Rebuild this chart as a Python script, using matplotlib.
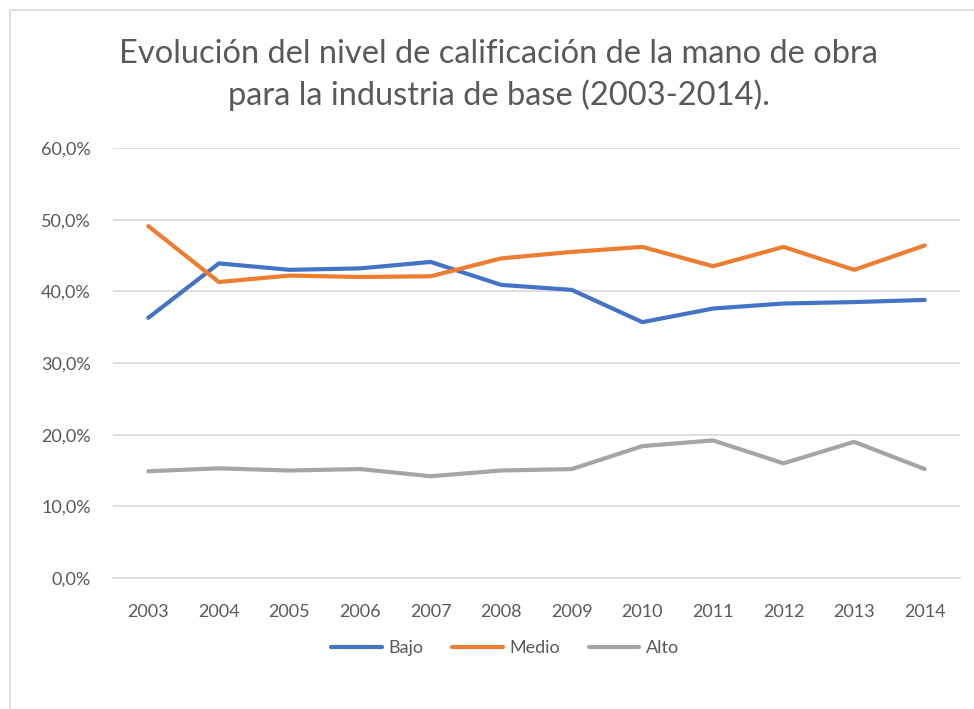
import numpy as np
import matplotlib
matplotlib.use('Agg')
from matplotlib import pyplot as plt
from matplotlib.patches import Rectangle

years = ['2003', '2004', '2005', '2006', '2007', '2008',
         '2009', '2010', '2011', '2012', '2013', '2014']
bajo  = [36.3, 43.9, 43.0, 43.2, 44.1, 40.9, 40.2, 35.7, 37.6, 38.3, 38.5, 38.8]
medio = [49.1, 41.3, 42.2, 42.0, 42.1, 44.6, 45.5, 46.2, 43.5, 46.2, 43.0, 46.4]
alto  = [14.9, 15.3, 15.0, 15.2, 14.2, 15.0, 15.2, 18.4, 19.2, 16.0, 19.0, 15.2]
yticks = [0, 10, 20, 30, 40, 50, 60]
title = ['Evolución del nivel de calificación de la mano de obra',
         'para la industria de base (2003-2014).']

plt.rcParams['font.family'] = ['Lato', 'DejaVu Sans']
txt = '#595959'

fig = plt.figure(figsize=(9.74, 7.09), dpi=100)
W, H = 974, 709
fig.patches.append(Rectangle((10 / W, -0.01), 1.02, 1 - 10 / H + 0.01,
                             transform=fig.transFigure, fill=False,
                             edgecolor='#D9D9D9', lw=1.2))

ax = fig.add_axes([113 / W, 1 - 578 / H, (960 - 113) / W, (578 - 148) / H])
x = np.arange(len(years))
ax.plot(x, bajo, color='#4472C4', lw=3, label='Bajo', solid_capstyle='round')
ax.plot(x, medio, color='#ED7D31', lw=3, label='Medio', solid_capstyle='round')
ax.plot(x, alto, color='#A5A5A5', lw=3, label='Alto', solid_capstyle='round')

ax.set_xlim(-0.5, len(years) - 0.5)
ax.set_ylim(0, 60)
ax.set_yticks(yticks)
ax.set_yticklabels(['%d,0%%' % v for v in yticks])
ax.set_xticks(x)
ax.set_xticklabels(years)
ax.grid(axis='y', color='#D9D9D9', lw=1.2)
ax.set_axisbelow(True)
for s in ['top', 'right', 'left']:
    ax.spines[s].set_visible(False)
ax.spines['bottom'].set_color('#D9D9D9')
ax.spines['bottom'].set_linewidth(1.2)
ax.tick_params(length=0, labelsize=13, labelcolor=txt)
ax.tick_params(axis='x', pad=19)
ax.tick_params(axis='y', pad=16)

# two title lines, placed on their baselines
fig.text(499 / W, 1 - 63 / H, title[0], ha='center', va='baseline',
         fontsize=23.5, color=txt)
fig.text(499 / W, 1 - 105 / H, title[1], ha='center', va='baseline',
         fontsize=23.5, color=txt)

fig.legend(loc='center', bbox_to_anchor=(505 / W, 1 - 648 / H), ncol=3,
           frameon=False, fontsize=13, labelcolor=txt, handlelength=2.8,
           columnspacing=1.6, handletextpad=0.35)

fig.savefig('out.png', dpi=100, facecolor='white')
